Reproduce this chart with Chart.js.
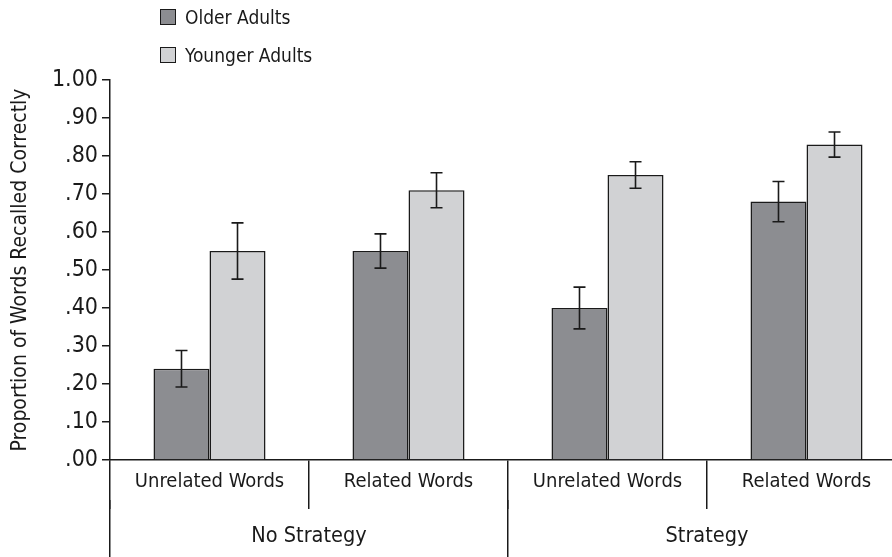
<!DOCTYPE html>
<html>
<head>
<meta charset="utf-8">
<script src="https://cdn.jsdelivr.net/npm/chart.js@4.4.1/dist/chart.umd.min.js"></script>
<style>
    html, body { margin: 0; padding: 0; background: #fff; overflow: hidden; width: 892px; height: 557px; }
    #wrap { position: relative; width: 912px; height: 557px; }
    #legend {
        position: absolute; left: 160px; top: 0;
        font: 19px 'Liberation Sans Narrow', 'DejaVu Sans Condensed', Arial, sans-serif;
        color: #1a1a1a;
    }
    .legend-item { display: flex; align-items: center; height: 42px; }
    .legend-item:first-child { height: 34px; }
    .swatch { width: 14px; height: 14px; border: 1px solid #1a1a1a; margin-right: 9px; }
</style>
</head>
<body>
<div id="wrap">
    <canvas id="chart" width="912" height="557"></canvas>
    <div id="legend"></div>
</div>
<script>
const categories = ['Unrelated Words', 'Related Words', 'Unrelated Words', 'Related Words'];
const groups = ['No Strategy', 'Strategy'];
const olderMeans = [0.24, 0.55, 0.40, 0.68];
const olderErrors = [0.048, 0.045, 0.055, 0.053];
const youngerMeans = [0.55, 0.71, 0.75, 0.83];
const youngerErrors = [0.074, 0.046, 0.035, 0.033];

const ink = '#1a1a1a';
const older = '#8c8d91';
const younger = '#d1d2d4';
const family = "'Liberation Sans Narrow', 'DejaVu Sans Condensed', Arial, sans-serif";

Chart.defaults.font.family = family;
Chart.defaults.font.size = 20;
Chart.defaults.color = ink;

// whiskers drawn on top of each bar, from the y scale
const errorBars = {
    id: 'errorBars',
    afterDatasetsDraw(chart) {
        const ctx = chart.ctx;
        const y = chart.scales.y;
        chart.data.datasets.forEach((ds, i) => {
            chart.getDatasetMeta(i).data.forEach((bar, j) => {
                const hi = y.getPixelForValue(ds.data[j] + ds.errors[j]);
                const lo = y.getPixelForValue(ds.data[j] - ds.errors[j]);
                ctx.save();
                ctx.strokeStyle = ink;
                ctx.lineWidth = 1.6;
                ctx.beginPath();
                ctx.moveTo(bar.x, hi);
                ctx.lineTo(bar.x, lo);
                ctx.moveTo(bar.x - 6, hi);
                ctx.lineTo(bar.x + 6, hi);
                ctx.moveTo(bar.x - 6, lo);
                ctx.lineTo(bar.x + 6, lo);
                ctx.stroke();
                ctx.restore();
            });
        });
    },
};

const chart = new Chart(document.getElementById('chart'), {
    type: 'bar',
    data: {
        labels: categories,
        datasets: [
            {
                label: 'Older Adults',
                data: olderMeans,
                errors: olderErrors,
                backgroundColor: older,
                borderColor: ink,
                borderWidth: 1.5,
            },
            {
                label: 'Younger Adults',
                data: youngerMeans,
                errors: youngerErrors,
                backgroundColor: younger,
                borderColor: ink,
                borderWidth: 1.5,
            },
        ],
    },
    options: {
        responsive: false,
        animation: false,
        layout: { padding: { top: 80, right: 6, left: 0, bottom: 0 } },
        datasets: { bar: { categoryPercentage: 0.563, barPercentage: 1.0 } },
        plugins: { legend: { display: false }, tooltip: { enabled: false } },
        scales: {
            y: {
                min: 0,
                max: 1,
                ticks: {
                    stepSize: 0.1,
                    padding: 4,
                    font: { size: 23 },
                    callback: (v) => {
                        const s = (Math.round(v * 100) / 100).toFixed(2);
                        return s.startsWith('0') ? s.slice(1) : s;
                    },
                },
                grid: { drawOnChartArea: false, tickLength: 8, color: ink, lineWidth: 1.5 },
                border: { color: ink, width: 1.5 },
                title: {
                    display: true,
                    text: 'Proportion of Words Recalled Correctly',
                    font: { size: 21 },
                    padding: { top: 8, bottom: 0 },
                },
                afterFit: (s) => { s.width = 110; },
            },
            x: {
                grid: { offset: true, drawOnChartArea: false, tickLength: 49, color: ink, lineWidth: 1.5 },
                border: { color: ink, width: 1.5 },
                ticks: { padding: -39, maxRotation: 0, autoSkip: false },
                afterFit: (s) => { s.height = 40; },
            },
            x2: {
                type: 'category',
                position: 'bottom',
                labels: groups,
                offset: true,
                grid: { offset: true, drawOnChartArea: false, tickLength: 57, color: ink, lineWidth: 1.5 },
                border: { display: false },
                ticks: { padding: -33, maxRotation: 0, autoSkip: false, font: { size: 21.5 } },
                afterFit: (s) => { s.height = 57; },
            },
        },
    },
    plugins: [errorBars],
});

// legend built from the datasets, stacked like the original
const legend = document.getElementById('legend');
chart.data.datasets.forEach((ds) => {
    const row = document.createElement('div');
    row.className = 'legend-item';
    const sw = document.createElement('span');
    sw.className = 'swatch';
    sw.style.background = ds.backgroundColor;
    const txt = document.createElement('span');
    txt.textContent = ds.label;
    row.appendChild(sw);
    row.appendChild(txt);
    legend.appendChild(row);
});
</script>
</body>
</html>
